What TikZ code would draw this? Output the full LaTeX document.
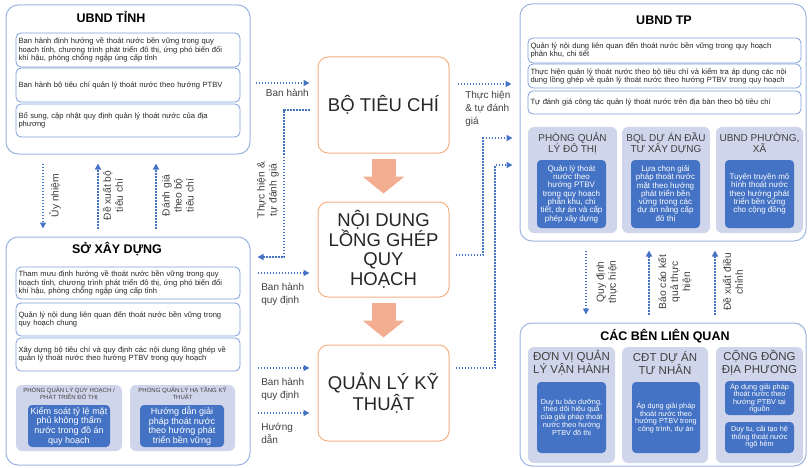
\documentclass[tikz,border=0pt]{standalone}
\usepackage{fontspec}
\setmainfont{Liberation Sans}
\usepackage{xcolor}
\usepackage{tikz}
\usetikzlibrary{arrows.meta,calc,positioning}
\definecolor{tnframe}{HTML}{9DB4E0}
\definecolor{tnitemline}{HTML}{7F9ED8}
\definecolor{tngroupfill}{HTML}{CFD5EA}
\definecolor{tnblue}{HTML}{4472C4}
\definecolor{tnorange}{HTML}{F4B183}
\definecolor{tnstepfill}{HTML}{F3AE91}
\definecolor{tntext}{HTML}{262626}
\definecolor{tnmuted}{HTML}{404040}
\tikzset{%
  tnouter/.style={%
    draw=tnframe,
    line width=1pt,
    rounded corners=12pt,
    inner sep=0pt
  },
  tntitle/.style={%
    font=\bfseries\fontsize{12.5}{14}\selectfont,
    text=black,
    inner sep=0pt
  },
  tnitem/.style={%
    draw=tnitemline,
    fill=white,
    line width=0.8pt,
    rounded corners=5pt,
    inner sep=0pt,
    minimum width=224pt,
    text width=219pt,
    align=left,
    text=tntext,
    font=\fontsize{7.6}{8.3}\selectfont
  },
  tngroup/.style={%
    fill=tngroupfill,
    rounded corners=6pt,
    inner sep=0pt
  },
  tngrouptitle/.style={%
    align=center,
    text=tnmuted,
    inner sep=0pt
  },
  tnunit/.style={%
    fill=tnblue,
    rounded corners=4pt,
    inner sep=0pt,
    align=center,
    text=white
  },
  tncore/.style={%
    draw=tnorange,
    fill=white,
    line width=1pt,
    rounded corners=10pt,
    minimum width=131pt,
    minimum height=96pt,
    align=center,
    text=tntext,
    font=\fontsize{18.5}{19.5}\selectfont
  },
  tnflow/.style={-{Triangle[length=6pt,width=6pt]},draw=tnblue,line width=1.6pt,dash pattern=on 1.6pt off 1.4pt},
  tnstep/.style={-{Triangle[length=17pt,width=42pt,line width=0pt]},draw=tnstepfill,line width=24pt},
  tnlabel/.style={font=\fontsize{10}{13}\selectfont,text=tnmuted,align=left,inner sep=0pt},
  tnvlabel/.style={tnlabel,rotate=90,align=center,font=\fontsize{10.3}{12}\selectfont}
}
\begin{document}
\begin{tikzpicture}[x=1pt,y=-1pt]
    \useasboundingbox (0,0) rectangle (808,468);

    % UBND tinh
    \node[tnouter,minimum width=244pt,minimum height=149pt] (tinh) at (128,79.5) {};
    \node[tntitle] (tinhtitle) at (111,17) {UBND TỈNH};
    \node[tnitem,minimum height=34pt] (tinha) at (128,50) {Ban hành định hướng về thoát nước bền vững trong quy\\hoạch tỉnh, chương trình phát triển đô thị, ứng phó biến đổi\\khí hậu, phòng chống ngập úng cấp tỉnh};
    \node[tnitem,minimum height=34pt] (tinhb) at (128,85) {Ban hành bộ tiêu chí quản lý thoát nước theo hướng PTBV};
    \node[tnitem,minimum height=33pt] (tinhc) at (128,120.5) {Bổ sung, cập nhật quy định quản lý thoát nước của địa\\phương};

    % So xay dung
    \node[tnouter,minimum width=244pt,minimum height=228pt] (sxd) at (128,351) {};
    \node[tntitle] (sxdtitle) at (117,249) {SỞ XÂY DỰNG};
    \node[tnitem,minimum height=32pt] (sxda) at (128,283) {Tham mưu định hướng về thoát nước bền vững trong quy\\hoạch tỉnh, chương trình phát triển đô thị, ứng phó biến đổi\\khí hậu, phòng chống ngập úng cấp tỉnh};
    \node[tnitem,minimum height=33pt] (sxdb) at (128,319.5) {Quản lý nội dung liên quan đến thoát nước bền vững trong\\quy hoạch chung};
    \node[tnitem,minimum height=33pt] (sxdc) at (128,354.5) {Xây dựng bộ tiêu chí và quy định các nội dung lồng ghép về\\quản lý thoát nước theo hướng PTBV trong quy hoạch};
    \node[tngroup,minimum width=106pt,minimum height=66pt] (sxdqh) at (69,418) {};
    \node[tngrouptitle,font=\fontsize{6}{6}\selectfont] (sxdqhtitle) at (69,394) {PHÒNG QUẢN LÝ QUY HOẠCH /\\PHÁT TRIỂN ĐÔ THỊ};
    \node[tnunit,minimum width=82pt,minimum height=42pt,font=\fontsize{9}{9.8}\selectfont] (sxdqhtask) at (69,426) {Kiểm soát tỷ lệ mặt\\phủ không thấm\\nước trong đồ án\\quy hoạch};
    \node[tngroup,minimum width=105pt,minimum height=66pt] (sxdht) at (182.5,418) {};
    \node[tngrouptitle,font=\fontsize{6}{6}\selectfont] (sxdhttitle) at (182.5,394) {PHÒNG QUẢN LÝ HẠ TẦNG KỸ\\THUẬT};
    \node[tnunit,minimum width=84pt,minimum height=42pt,font=\fontsize{9}{9.8}\selectfont] (sxdhttask) at (182,426) {Hướng dẫn giải\\pháp thoát nước\\theo hướng phát\\triển bền vững};

    % center column
    \node[tncore] (bo) at (383.5,105) {BỘ TIÊU CHÍ};
    \node[tncore,minimum height=95pt] (nd) at (383.5,249.5) {NỘI DUNG\\LỒNG GHÉP\\QUY\\HOẠCH};
    \node[tncore] (kt) at (383.5,393) {QUẢN LÝ KỸ\\THUẬT};
    \draw[tnstep,shorten <=5pt,shorten >=8pt] (bo.south) -- (nd.north);
    \draw[tnstep,shorten <=5pt,shorten >=7pt] (nd.south) -- (kt.north);

    % UBND TP
    \node[tnouter,minimum width=286pt,minimum height=237pt] (tp) at (663,122.5) {};
    \node[tntitle] (tptitle) at (664,20) {UBND TP};
    \node[tnitem,minimum width=273pt,text width=268pt,minimum height=25pt] (tpa) at (664.5,50.5) {Quản lý nội dung liên quan đến thoát nước bền vững trong quy hoạch\\phân khu, chi tiết};
    \node[tnitem,minimum width=273pt,text width=268pt,minimum height=24pt] (tpb) at (664.5,76) {Thực hiện quản lý thoát nước theo bộ tiêu chí và kiểm tra áp dụng các nội\\dung lồng ghép về quản lý thoát nước theo hướng PTBV trong quy hoạch};
    \node[tnitem,minimum width=273pt,text width=268pt,minimum height=23pt] (tpc) at (664.5,102.5) {Tự đánh giá công tác quản lý thoát nước trên địa bàn theo bộ tiêu chí};
    \node[tngroup,minimum width=89pt,minimum height=106pt] (tpdt) at (572.5,180) {};
    \node[tngrouptitle,font=\fontsize{10}{10.7}\selectfont] (tpdttitle) at (572.5,143) {PHÒNG QUẢN\\LÝ ĐÔ THỊ};
    \node[tnunit,minimum width=69pt,minimum height=68pt,font=\fontsize{8}{8.3}\selectfont] (tpdttask) at (571.5,194) {Quản lý thoát\\nước theo\\hướng PTBV\\trong quy hoạch\\phân khu, chi\\tiết, dự án và cấp\\phép xây dựng};
    \node[tngroup,minimum width=88pt,minimum height=106pt] (tpbql) at (666,180) {};
    \node[tngrouptitle,font=\fontsize{10}{10.7}\selectfont] (tpbqltitle) at (666,143) {BQL DỰ ÁN ĐẦU\\TƯ XÂY DỰNG};
    \node[tnunit,minimum width=69pt,minimum height=68pt,font=\fontsize{8}{8.3}\selectfont] (tpbqltask) at (665.5,194) {Lựa chọn giải\\pháp thoát nước\\mặt theo hướng\\phát triển bền\\vững trong các\\dự án nâng cấp\\đô thị};
    \node[tngroup,minimum width=87pt,minimum height=106pt] (tppx) at (759.5,180) {};
    \node[tngrouptitle,font=\fontsize{10}{10.7}\selectfont] (tppxtitle) at (759.5,143) {UBND PHƯỜNG,\\XÃ};
    \node[tnunit,minimum width=69pt,minimum height=68pt,font=\fontsize{8}{8.3}\selectfont] (tppxtask) at (759.5,194) {Tuyên truyền mô\\hình thoát nước\\theo hướng phát\\triển bền vững\\cho cộng đồng};

    % cac ben lien quan
    \node[tnouter,minimum width=286pt,minimum height=143pt] (lq) at (663,394.5) {};
    \node[tntitle] (lqtitle) at (665,336) {CÁC BÊN LIÊN QUAN};
    \node[tngroup,minimum width=87pt,minimum height=116pt] (lqvh) at (571.5,405) {};
    \node[tngrouptitle,font=\fontsize{11.5}{12.7}\selectfont] (lqvhtitle) at (571.5,363) {ĐƠN VỊ QUẢN\\LÝ VẬN HÀNH};
    \node[tnunit,minimum width=69pt,minimum height=71pt,font=\fontsize{7.3}{7.7}\selectfont] (lqvhtask) at (571.5,417.5) {Duy tu bảo dưỡng,\\theo dõi hiệu quả\\của giải pháp thoát\\nước theo hướng\\PTBV đô thị};
    \node[tngroup,minimum width=86pt,minimum height=116pt] (lqcdt) at (665,405) {};
    \node[tngrouptitle,font=\fontsize{11.5}{12.7}\selectfont] (lqcdttitle) at (665,363) {CĐT DỰ ÁN\\TƯ NHÂN};
    \node[tnunit,minimum width=68pt,minimum height=71pt,font=\fontsize{7.3}{7.7}\selectfont] (lqcdttask) at (666,417.5) {Áp dụng giải pháp\\thoát nước theo\\hướng PTBV trong\\công trình, dự án};
    \node[tngroup,minimum width=87pt,minimum height=116pt] (lqcd) at (759.5,405) {};
    \node[tngrouptitle,font=\fontsize{11.5}{12.7}\selectfont] (lqcdtitle) at (759.5,363) {CỘNG ĐỒNG\\ĐỊA PHƯƠNG};
    \node[tnunit,minimum width=69pt,minimum height=34pt,font=\fontsize{7.3}{7.5}\selectfont] (lqcdtaska) at (759.5,398) {Áp dụng giải pháp\\thoát nước theo\\hướng PTBV tại\\nguồn};
    \node[tnunit,minimum width=69pt,minimum height=31pt,font=\fontsize{7.3}{7.5}\selectfont] (lqcdtaskb) at (759.5,437.5) {Duy tu, cải tạo hệ\\thống thoát nước\\ngõ hẻm};

    % flows on the left
    \draw[tnflow,shorten <=9pt,shorten >=8pt] (tinh.south -| 43,0) -- node[midway,xshift=12pt,tnvlabel] {Ủy nhiệm} (sxd.north -| 43,0);
    \draw[tnflow,shorten <=8pt,shorten >=9pt] (sxd.north -| 98,0) -- node[midway,xshift=15pt,tnvlabel] {Đề xuất bộ\\tiêu chí} (tinh.south -| 98,0);
    \draw[tnflow,shorten <=8pt,shorten >=9pt] (sxd.north -| 156,0) -- node[midway,xshift=22pt,tnvlabel] {Đánh giá\\theo bộ\\tiêu chí} (tinh.south -| 156,0);
    \draw[tnflow,shorten <=5pt,shorten >=8pt] (tinh.east |- 0,83) -- node[pos=0.55,below=5pt,tnlabel] {Ban hành} (bo.west |- 0,83);
    \draw[tnflow,shorten <=8pt,shorten >=7pt] (bo.west |- 0,110) -- (284,110) -- (284,257) -- (sxd.east |- 0,257);
    \node[tnvlabel] (thlabel) at (268,190) {Thực hiện \&\\tự đánh giá};
    \draw[tnflow,shorten <=7pt,shorten >=8pt] (sxd.east |- 0,273) -- node[pos=0,anchor=north west,xshift=10pt,yshift=-9pt,tnlabel] {Ban hành\\quy định} (nd.west |- 0,273);
    \draw[tnflow,shorten <=7pt,shorten >=8pt] (sxd.east |- 0,368) -- node[pos=0,anchor=north west,xshift=10pt,yshift=-9pt,tnlabel] {Ban hành\\quy định} (kt.west |- 0,368);
    \draw[tnflow,shorten <=7pt,shorten >=8pt] (sxd.east |- 0,413) -- node[pos=0,anchor=north west,xshift=10pt,yshift=-9pt,tnlabel] {Hướng\\dẫn} (kt.west |- 0,413);

    % flows on the right
    \draw[tnflow,shorten <=8pt,shorten >=8pt] (bo.east |- 0,84) -- node[pos=0,anchor=north west,xshift=15pt,yshift=-6pt,tnlabel] {Thực hiện\\\& tự đánh\\giá} (tp.west |- 0,84);
    \draw[tnflow,shorten <=6pt,shorten >=7pt] (nd.east |- 0,255) -- (483,255) -- (483,138) -- (tp.west |- 0,138);
    \draw[tnflow,shorten <=6pt,shorten >=7pt] (kt.east |- 0,368) -- (495,368) -- (495,165) -- (tp.west |- 0,165);
    \draw[tnflow,shorten <=9pt,shorten >=8pt] (tp.south -| 586,0) -- node[midway,xshift=21pt,tnvlabel] {Quy định\\thực hiện} (lq.north -| 586,0);
    \draw[tnflow,shorten <=8pt,shorten >=9pt] (lq.north -| 649,0) -- node[midway,xshift=26pt,tnvlabel] {Báo cáo kết\\quả thực\\hiện} (tp.south -| 649,0);
    \draw[tnflow,shorten <=8pt,shorten >=9pt] (lq.north -| 715,0) -- node[midway,xshift=18pt,tnvlabel] {Đề xuất điều\\chỉnh} (tp.south -| 715,0);
  \end{tikzpicture}
\end{document}
